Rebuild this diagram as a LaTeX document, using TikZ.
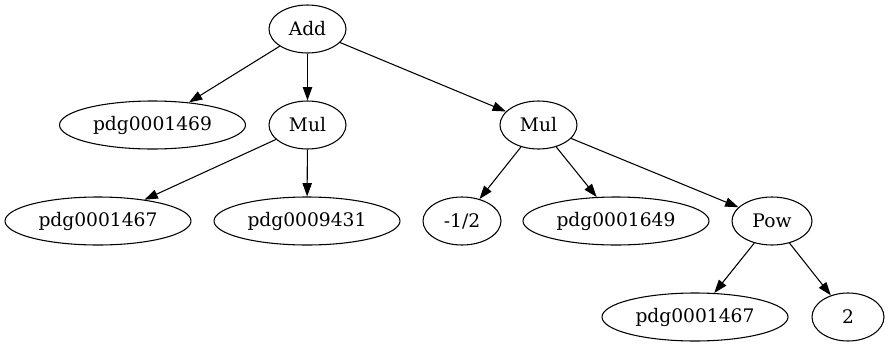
\documentclass[tikz,border=0pt]{standalone}
\usepackage{fontspec}
\setmainfont{DejaVu Serif}
\usetikzlibrary{shapes.geometric,arrows.meta}
\begin{document}
\begin{tikzpicture}[x=0.75pt,y=-0.75pt,font=\fontsize{14pt}{16pt}\selectfont,
  op/.style={ellipse,draw,line width=0.8pt,inner sep=0pt,minimum height=36pt},
  edge/.style={line width=0.8pt,-{Triangle[length=10pt,width=7pt]}}]
\useasboundingbox (0,0) rectangle (890,347);
% top
\node[op,minimum width=57.75pt] (add) at (307.5,29) {Add};
% second row
\node[op,minimum width=139.5pt] (p1469) at (152.5,125) {pdg0001469};
\node[op,minimum width=57.75pt] (mulA) at (307.5,125) {Mul};
\node[op,minimum width=57.75pt] (mulB) at (538.5,125) {Mul};
% third row
\node[op,minimum width=139.5pt] (p1467) at (98,221) {pdg0001467};
\node[op,minimum width=139.5pt] (p9431) at (307,221) {pdg0009431};
\node[op,minimum width=58.5pt] (half) at (462,221) {-1/2};
\node[op,minimum width=139.5pt] (p1649) at (616,221) {pdg0001649};
\node[op,minimum width=60pt] (pow) at (772,221) {Pow};
% bottom
\node[op,minimum width=139.5pt] (q1467) at (695,317) {pdg0001467};
\node[op,minimum width=54pt] (two) at (848,317) {2};
\foreach \a/\b in {add/p1469,add/mulA,add/mulB,mulA/p1467,mulA/p9431,mulB/half,mulB/p1649,mulB/pow,pow/q1467,pow/two}
{
\draw[edge] (\a) -- (\b);
}
\end{tikzpicture}
\end{document}
